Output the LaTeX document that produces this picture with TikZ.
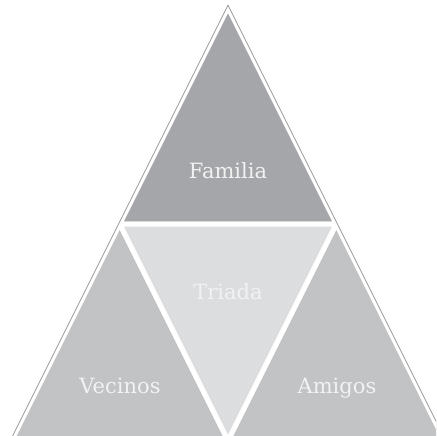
\documentclass[tikz,border=0pt]{standalone}
\usepackage{fontspec}
\setmainfont{DejaVu Serif}
\definecolor{topgray}{RGB}{165,166,169}
\definecolor{sidegray}{RGB}{194,195,197}
\definecolor{midgray}{RGB}{220,221,223}
\definecolor{outline}{RGB}{140,140,140}
\definecolor{labeltxt}{RGB}{242,242,242}
\tikzset{
  piece/.style={draw=white, line width=5pt, line join=miter},
  lbl/.style={text=labeltxt, font=\fontsize{21}{24}\selectfont, inner sep=0pt, anchor=base}
}
\begin{document}
\begin{tikzpicture}[x=1pt,y=-1pt]
\useasboundingbox (0,0) rectangle (436,436);
\clip (0,0) rectangle (436,436);
\fill[white] (0,0) rectangle (436,436);
\coordinate (A) at (228,7.5);
\coordinate (L) at (11.5,440.5);
\coordinate (R) at (444.5,440.5);
\coordinate (ML) at (119.75,224);
\coordinate (MR) at (336.25,224);
\coordinate (MB) at (228,440.5);
\path[piece, fill=topgray] (A) -- (MR) -- (ML) -- cycle;
\path[piece, fill=sidegray] (ML) -- (MB) -- (L) -- cycle;
\path[piece, fill=sidegray] (MR) -- (R) -- (MB) -- cycle;
\path[piece, fill=midgray] (ML) -- (MR) -- (MB) -- cycle;
\draw[outline, line width=0.7pt] (-9.45,480) -- (228,5.1) -- (465.45,480);
\node[lbl] (familia) at (228,178) {Familia};
\node[lbl] (triada) at (228,299) {Triada};
\node[lbl] (vecinos) at (120,393) {Vecinos};
\node[lbl] (amigos) at (337,393) {Amigos};
\end{tikzpicture}
\end{document}
